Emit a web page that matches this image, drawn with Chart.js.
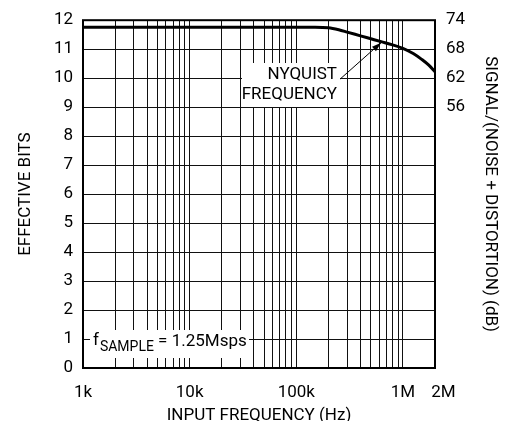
<!DOCTYPE html>
<html>
<head>
<meta charset="utf-8">
<script src="https://cdn.jsdelivr.net/npm/chart.js@4.4.1/dist/chart.umd.min.js"></script>
<style>
  html, body { margin: 0; padding: 0; background: #fff; }
  #wrap { width: 505px; height: 421px; }
</style>
</head>
<body>
<div id="wrap"><canvas id="chart" width="505" height="421"></canvas></div>
<script>
// Effective bits vs input frequency
const freqs = [1000, 10000, 100000, 150000, 200000, 250000, 300000, 400000, 500000, 625000, 800000, 1000000, 1250000, 1500000, 1750000, 2000000];
const bits = [11.76, 11.76, 11.76, 11.76, 11.74, 11.67, 11.59, 11.46, 11.36, 11.26, 11.15, 11.03, 10.85, 10.65, 10.45, 10.22];

// x tick labels (log scale) and right axis labels
const xLabelValues = [1000, 10000, 100000, 1000000, 2000000];
const xLabelTexts = ['1k', '10k', '100k', '1M', '    2M'];
const dbTicks = [56, 62, 68, 74];

// annotation values
const nyquistFreq = 625000;
const nyquistBits = 11.26;
const arrowTail = [258000, 9.97];

const FONT = "Roboto, 'DejaVu Sans Condensed', sans-serif";

// all minor log positions for the vertical grid (1k ... 2M)
function logGridTicks() {
    const out = [];
    for (let d = 1000; d <= 1000000; d *= 10) {
        for (let m = 1; m <= 9; m++) {
            const v = m * d;
            if (v <= 2000000) out.push({ value: v });
        }
    }
    return out;
}

// white boxes with labels, arrow and frame
const annotations = {
    id: 'annotations',
    beforeDatasetsDraw(chart) {
        const { ctx } = chart;
        ctx.save();
        ctx.fillStyle = '#fff';
        ctx.fillRect(242, 63, 98, 44);
        ctx.fillRect(90, 330, 159, 28);
        ctx.restore();
    },
    afterDatasetsDraw(chart) {
        const { ctx, chartArea, scales } = chart;
        const x = scales.x, y = scales.y;
        ctx.save();
        ctx.fillStyle = '#000';
        ctx.textBaseline = 'middle';
        ctx.font = '17px ' + FONT;
        ctx.textAlign = 'right';
        ctx.fillText('NYQUIST', 337, 75);
        ctx.fillText('FREQUENCY', 337, 95);

        // f SAMPLE label
        ctx.textAlign = 'left';
        let px = 93;
        ctx.fillText('f', px, 341);
        px += ctx.measureText('f').width + 1;
        ctx.font = '14px ' + FONT;
        ctx.fillText('SAMPLE', px, 347);
        px += ctx.measureText('SAMPLE').width;
        ctx.font = '17px ' + FONT;
        ctx.fillText(' = 1.25Msps', px, 342);

        // arrow
        const x0 = x.getPixelForValue(arrowTail[0]), y0 = y.getPixelForValue(arrowTail[1]);
        const x1 = x.getPixelForValue(nyquistFreq), y1 = y.getPixelForValue(nyquistBits) + 1;
        ctx.strokeStyle = '#000';
        ctx.lineWidth = 1;
        ctx.beginPath();
        ctx.moveTo(x0, y0);
        ctx.lineTo(x1, y1);
        ctx.stroke();
        const ang = Math.atan2(y1 - y0, x1 - x0);
        ctx.beginPath();
        ctx.moveTo(x1, y1);
        ctx.lineTo(x1 - 10 * Math.cos(ang - 0.3), y1 - 10 * Math.sin(ang - 0.3));
        ctx.lineTo(x1 - 10 * Math.cos(ang + 0.3), y1 - 10 * Math.sin(ang + 0.3));
        ctx.closePath();
        ctx.fill();

        // frame
        ctx.lineWidth = 2;
        ctx.strokeRect(chartArea.left, chartArea.top, chartArea.right - chartArea.left, chartArea.bottom - chartArea.top);
        ctx.restore();
    }
};

const ctx = document.getElementById('chart').getContext('2d');
new Chart(ctx, {
    type: 'line',
    data: {
        datasets: [{
            data: freqs.map((f, i) => ({ x: f, y: bits[i] })),
            borderColor: '#000',
            borderWidth: 3,
            pointRadius: 0,
            cubicInterpolationMode: 'monotone',
            fill: false
        }]
    },
    options: {
        responsive: false,
        animation: false,
        layout: { padding: { top: 17, left: 0, right: 0, bottom: 0 } },
        plugins: { legend: { display: false }, tooltip: { enabled: false } },
        scales: {
            x: {
                type: 'logarithmic',
                min: 1000,
                max: 2000000,
                afterBuildTicks(scale) { scale.ticks = logGridTicks(); },
                afterFit(scale) { scale.height = 53; },
                grid: { color: '#111', lineWidth: 1, drawTicks: false },
                border: { display: false },
                ticks: {
                    autoSkip: false,
                    maxRotation: 0,
                    padding: 15,
                    color: '#000',
                    font: { family: FONT, size: 17 },
                    callback(v) {
                        const i = xLabelValues.indexOf(v);
                        return i >= 0 ? xLabelTexts[i] : '';
                    }
                },
                title: {
                    display: true,
                    text: 'INPUT FREQUENCY (Hz)',
                    color: '#000',
                    font: { family: FONT, size: 17, lineHeight: 1 },
                    padding: { top: 0, bottom: -3 }
                }
            },
            y: {
                position: 'left',
                min: 0,
                max: 12,
                afterFit(scale) { scale.width = 83; },
                grid: { color: '#111', lineWidth: 1, drawTicks: false },
                border: { display: false },
                ticks: {
                    stepSize: 1,
                    padding: 10,
                    color: '#000',
                    font: { family: FONT, size: 17 }
                },
                title: {
                    display: true,
                    text: 'EFFECTIVE BITS',
                    color: '#000',
                    font: { family: FONT, size: 17 },
                    padding: { top: 16, bottom: 0 }
                }
            },
            y2: {
                position: 'right',
                min: 2,
                max: 74,
                afterBuildTicks(scale) { scale.ticks = dbTicks.map(v => ({ value: v })); },
                afterFit(scale) { scale.width = 70; },
                grid: { display: false },
                border: { display: false },
                ticks: {
                    padding: 3,
                    color: '#000',
                    font: { family: FONT, size: 17 }
                },
                title: {
                    display: true,
                    text: 'SIGNAL/(NOISE + DISTORTION) (dB)',
                    color: '#000',
                    font: { family: FONT, size: 17 },
                    padding: { top: 5, bottom: 0 }
                }
            }
        }
    },
    plugins: [annotations]
});
</script>
</body>
</html>
